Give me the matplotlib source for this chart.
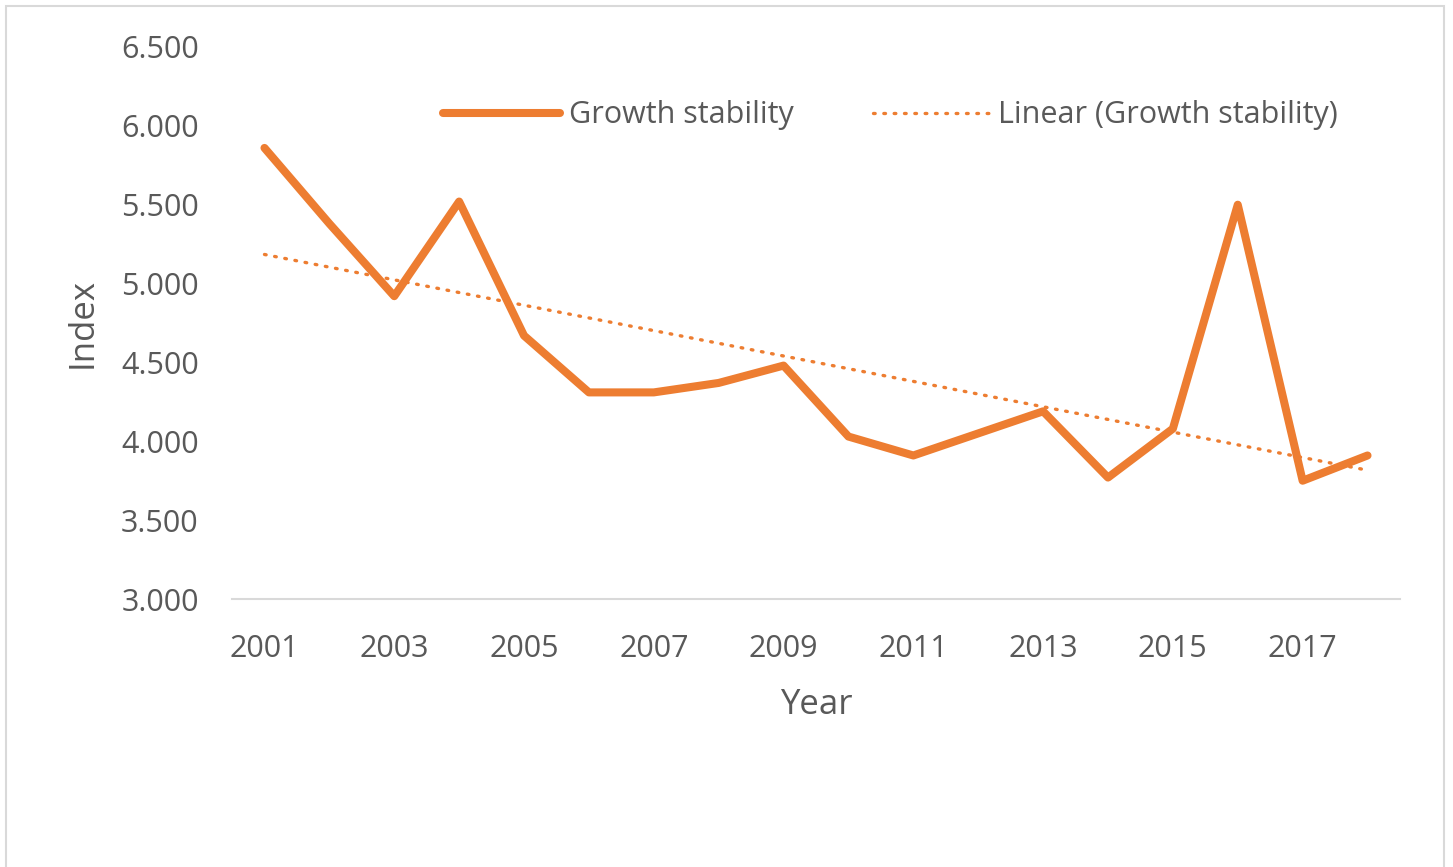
import matplotlib

matplotlib.use("Agg")
import matplotlib.pyplot as plt
import numpy as np
from matplotlib.patches import Rectangle
from matplotlib.ticker import FuncFormatter, MultipleLocator

# 成長安定性指数 (年次)
years = list(range(2001, 2019))
growth_stability = [5.86, 5.38, 4.92, 5.52, 4.67, 4.31, 4.31, 4.37, 4.48,
                    4.03, 3.91, 4.05, 4.19, 3.77, 4.08, 5.50, 3.75, 3.91]
year_ticks = list(range(2001, 2019, 2))

ORANGE = "#ED7D31"
TEXT = "#595959"
GRID = "#D9D9D9"
TICK_FONT = ["Open Sans", "DejaVu Sans"]
LABEL_FONT = ["Liberation Sans Narrow", "Open Sans", "DejaVu Sans"]

fig = plt.figure(figsize=(14.53, 8.67), dpi=100)
ax = fig.add_axes([0.1597, 0.3091, 0.8038, 0.6367])

ax.plot(years, growth_stability, color=ORANGE, linewidth=5.8,
        solid_joinstyle="round", solid_capstyle="round", label="Growth stability")

# 線形近似 (最小二乗)
coef = np.polyfit(years, growth_stability, 1)
trend = np.polyval(coef, years)
ax.plot(years, trend, color=ORANGE, linewidth=2.4, linestyle=(0, (0.5, 2.6)),
        dash_capstyle="round", label="Linear (Growth stability)")

ax.set_xlim(2000.5, 2018.5)
ax.set_ylim(3.0, 6.5)
ax.yaxis.set_major_locator(MultipleLocator(0.5))
ax.yaxis.set_major_formatter(FuncFormatter(lambda v, _: f"{v:.3f}"))
ax.set_xticks(year_ticks, [str(y) for y in year_ticks])
ax.tick_params(axis="both", length=0, labelsize=22, labelcolor=TEXT)
ax.tick_params(axis="y", pad=24)
ax.tick_params(axis="x", pad=25)
for lbl in ax.get_xticklabels() + ax.get_yticklabels():
    lbl.set_family(TICK_FONT)

for side in ("top", "right", "left"):
    ax.spines[side].set_visible(False)
ax.spines["bottom"].set_color(GRID)
ax.spines["bottom"].set_linewidth(1.5)

ax.set_xlabel("Year", fontsize=25, color=TEXT, family=LABEL_FONT, va="center")
ax.xaxis.set_label_coords(0.5, -0.192)
ax.set_ylabel("Index", fontsize=25, color=TEXT, family=LABEL_FONT, va="center")
ax.yaxis.set_label_coords(-0.1276, 0.5)

fig.legend(loc="center", bbox_to_anchor=(0.613, 0.867), ncol=2, frameon=False,
           handlelength=3.8, columnspacing=2.6, handletextpad=0.3,
           prop={"family": LABEL_FONT, "size": 22}, labelcolor=TEXT)

# グラフエリアの枠線
fig.add_artist(Rectangle((6 / 1453, -0.05), 1438 / 1453, 1 - 6 / 867 + 0.05,
                         transform=fig.transFigure, fill=False,
                         edgecolor=GRID, linewidth=1.5))

fig.savefig("out.png", dpi=100, facecolor="white")
